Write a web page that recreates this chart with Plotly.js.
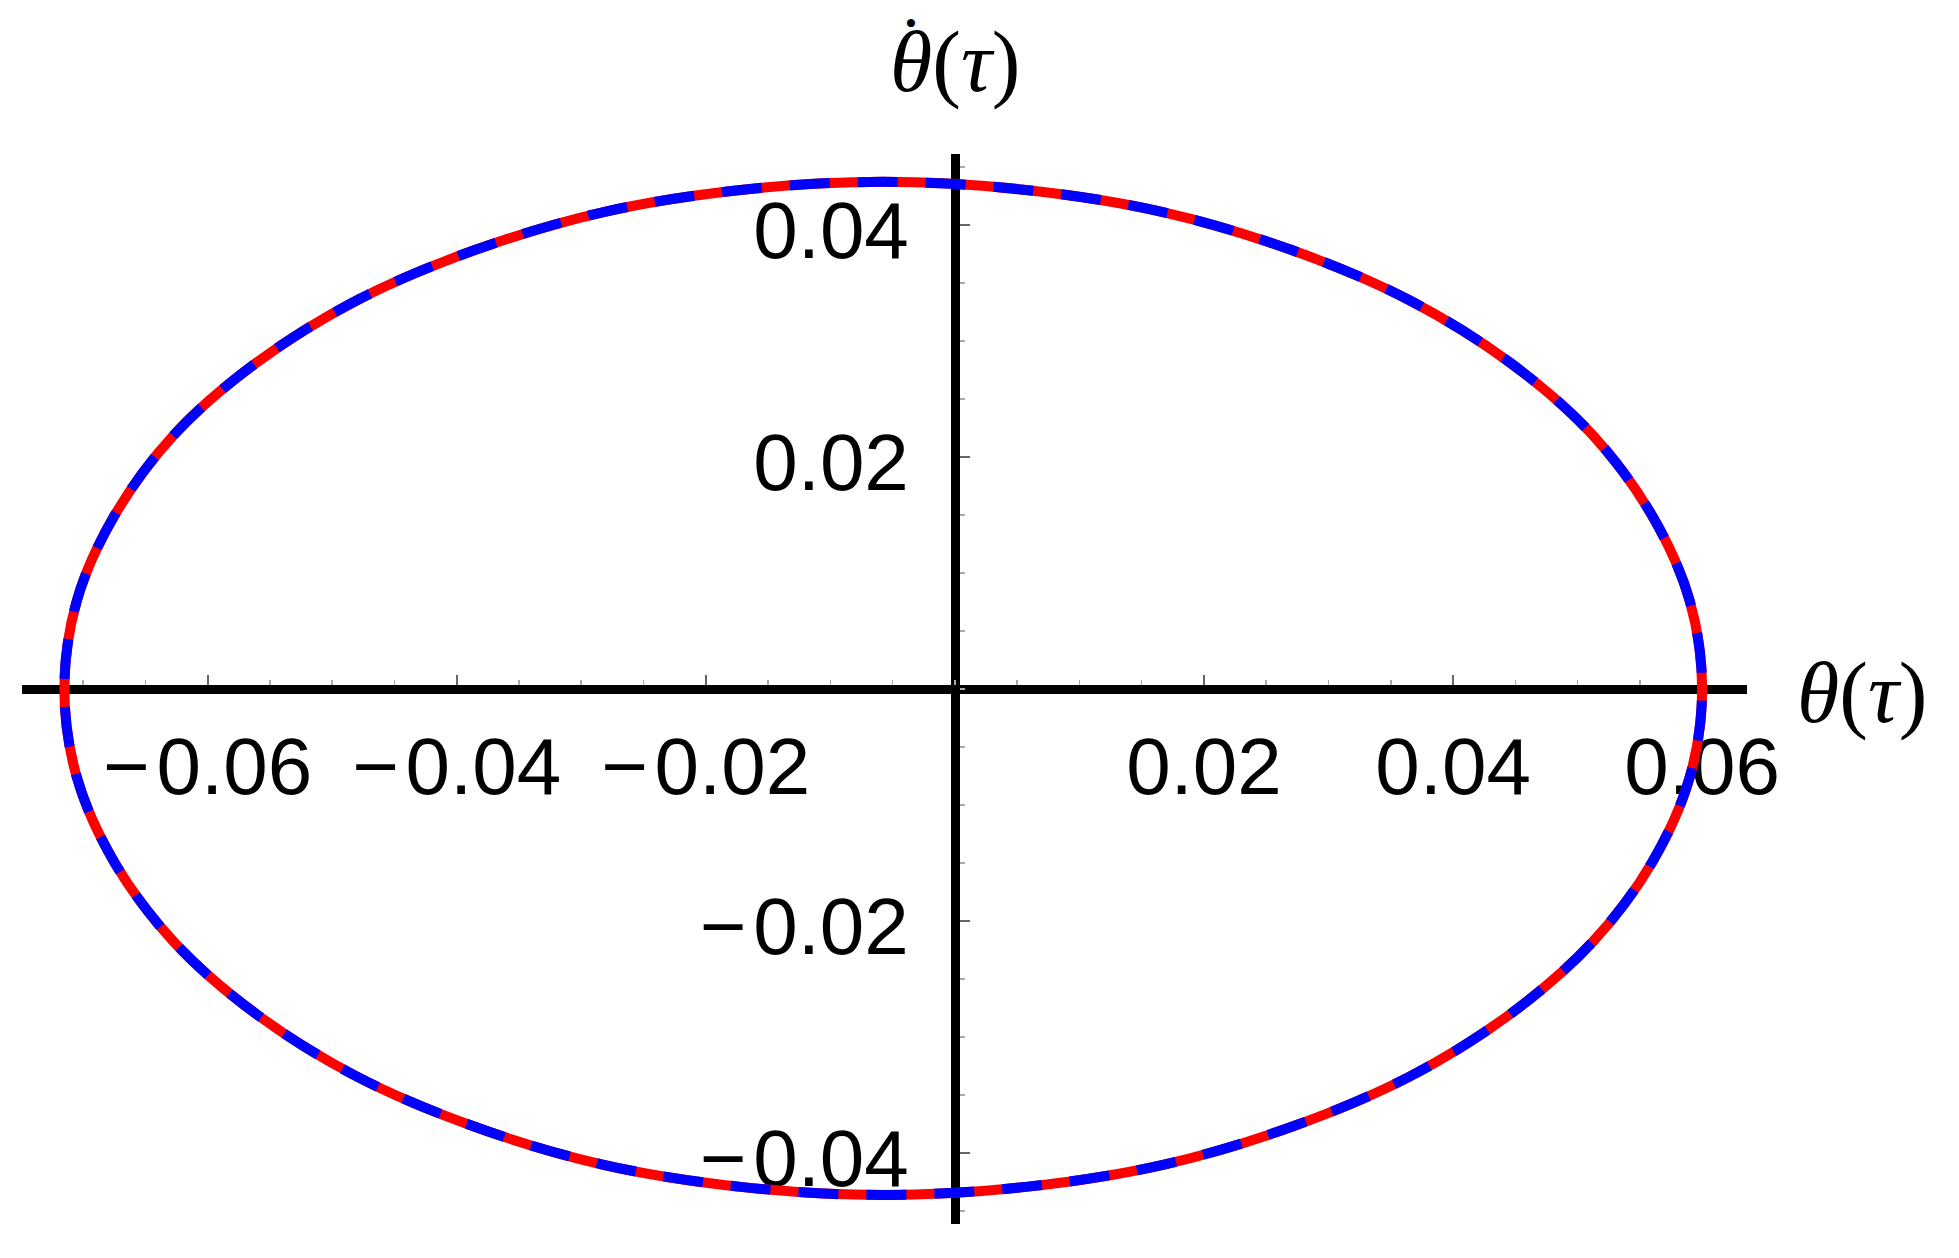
<!DOCTYPE html>
<html>
<head>
<meta charset="utf-8">
<script src="https://cdn.plot.ly/plotly-3.0.1.min.js"></script>
<style>
  html, body { margin: 0; padding: 0; background: #fff; }
  #plot { width: 1959px; height: 1258px; }
</style>
</head>
<body>
<div id="plot"></div>
<script>
// phase portrait points (theta, theta dot)
const theta = [
  0.0600, 0.0590, 0.0560, 0.0512, 0.0446, 0.0365, 0.0271, 0.0167, 0.0057,
  -0.0058, -0.0172, -0.0282, -0.0386, -0.0480, -0.0561, -0.0627, -0.0675, -0.0705,
  -0.0715, -0.0705, -0.0675, -0.0627, -0.0561, -0.0480, -0.0386, -0.0282, -0.0172,
  -0.0058, 0.0057, 0.0167, 0.0271, 0.0365, 0.0446, 0.0512, 0.0560, 0.0590, 0.0600
];
const thetaDot = [
  0.0000, 0.0076, 0.0149, 0.0219, 0.0281, 0.0335, 0.0378, 0.0411, 0.0430,
  0.0437, 0.0430, 0.0411, 0.0378, 0.0335, 0.0281, 0.0219, 0.0149, 0.0076,
  0.0000, -0.0076, -0.0149, -0.0218, -0.0280, -0.0334, -0.0377, -0.0410, -0.0429,
  -0.0436, -0.0429, -0.0410, -0.0377, -0.0334, -0.0280, -0.0218, -0.0149, -0.0076, 0.0000
];

const xTicks = [-0.06, -0.04, -0.02, 0.02, 0.04, 0.06];
const xTickText = ["\u2212\u200a0.06", "\u2212\u200a0.04", "\u2212\u200a0.02", "0.02", "0.04", "0.06"];
const yTicks = [-0.04, -0.02, 0.02, 0.04];
const yTickText = ["\u2212\u200a0.04", "\u2212\u200a0.02", "0.02", "0.04"];

const xRange = [-0.0749, 0.0636];
const yRange = [-0.0461, 0.0461];

const tickFont = { family: "Liberation Sans, Arial, sans-serif", size: 80, color: "#000" };
const labelFont = { family: "Liberation Serif, Times New Roman, serif", size: 86, color: "#000" };

const traces = [
  {
    x: theta, y: thetaDot, mode: "lines",
    line: { color: "#ff0000", width: 10, shape: "spline", smoothing: 1 },
    hoverinfo: "skip", showlegend: false
  },
  {
    x: theta, y: thetaDot, mode: "lines",
    line: { color: "#0000ff", width: 10, shape: "spline", smoothing: 1, dash: "40px,28px" },
    hoverinfo: "skip", showlegend: false
  }
];

const axisCommon = {
  showgrid: false, zeroline: false,
  showline: true, linecolor: "#000", linewidth: 9,
  ticks: "inside", ticklen: 10, tickwidth: 2, tickcolor: "#666",
  tickfont: tickFont, tickmode: "array",
  anchor: "free", layer: "below traces",
  fixedrange: true
};

const layout = {
  width: 1959, height: 1258,
  margin: { l: 22, r: 212, t: 154, b: 34 },
  paper_bgcolor: "#fff", plot_bgcolor: "#fff",
  showlegend: false,
  xaxis: Object.assign({}, axisCommon, {
    range: xRange,
    tickvals: xTicks, ticktext: xTickText,
    position: (0 - yRange[0]) / (yRange[1] - yRange[0]),
    ticklabelstandoff: 4,
    minor: { tickmode: "linear", tick0: 0, dtick: 0.005, ticks: "inside", ticklen: 5, tickwidth: 1.5, tickcolor: "#aaa" }
  }),
  yaxis: Object.assign({}, axisCommon, {
    range: yRange,
    tickvals: yTicks, ticktext: yTickText,
    position: (0 - xRange[0]) / (xRange[1] - xRange[0]),
    ticklabelstandoff: 26,
    ticklabelshift: 5,
    minor: { tickmode: "linear", tick0: 0, dtick: 0.005, ticks: "inside", ticklen: 5, tickwidth: 1.5, tickcolor: "#aaa" }
  }),
  annotations: [
    {
      text: "<i>\u03b8</i>(<i>\u03c4</i>)", font: labelFont, showarrow: false,
      xref: "paper", x: 1, xanchor: "left", xshift: 48,
      yref: "y", y: 0, yanchor: "middle", yshift: -4
    },
    {
      text: "<i>\u03b8</i>(<i>\u03c4</i>)", font: labelFont, showarrow: false,
      xref: "x", x: 0, xanchor: "center",
      yref: "paper", y: 1, yanchor: "bottom", yshift: 42
    },
    {
      // dot over theta for the time derivative
      text: "\u2022", font: { family: "Liberation Serif, serif", size: 34, color: "#000" },
      showarrow: false,
      xref: "x", x: 0, xanchor: "center", xshift: -44,
      yref: "paper", y: 1, yanchor: "middle", yshift: 131
    }
  ]
};

Plotly.newPlot("plot", traces, layout, { staticPlot: true, displayModeBar: false });
</script>
</body>
</html>
